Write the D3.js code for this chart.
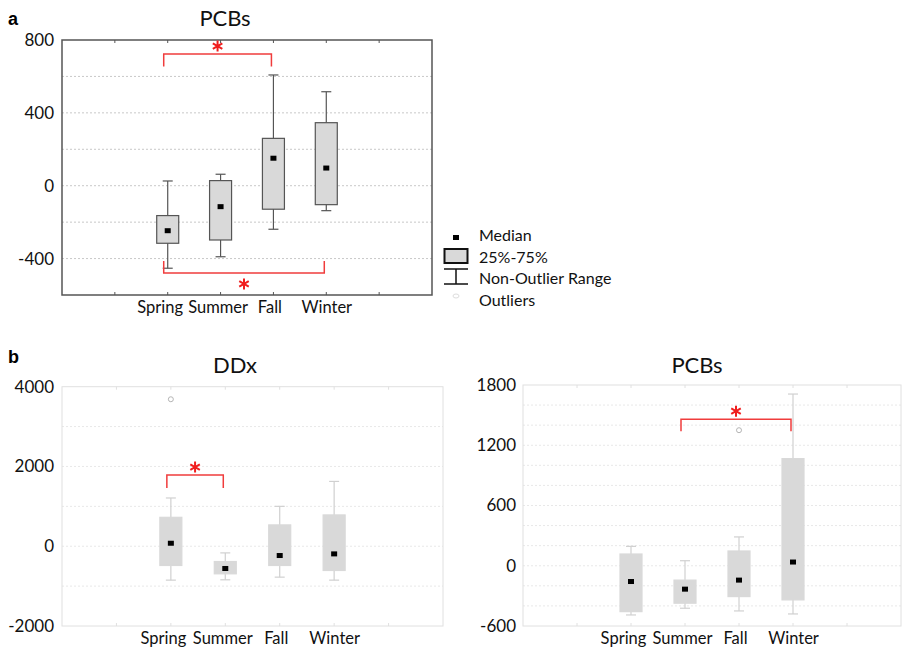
<!DOCTYPE html>
<html>
<head>
<meta charset="utf-8">
<script src="https://cdn.jsdelivr.net/npm/d3@7"></script>
<style>
  body { margin: 0; background: #fff; }
  svg { display: block; font-family: Lato, "Open Sans", sans-serif; }
</style>
</head>
<body>
<svg id="chart" width="903" height="650"></svg>
<script>
// Seasons shared by every panel
var seasons = ["Spring", "Summer", "Fall", "Winter"];

// Panel a - PCBs (min, q1, median, q3, max per season)
var pcbsA_min = [-453, -390, -239, -137];
var pcbsA_q1 = [-316, -298, -129, -104];
var pcbsA_med = [-247, -115, 151, 97];
var pcbsA_q3 = [-164, 28, 260, 346];
var pcbsA_max = [26, 63, 608, 516];
var pcbsA_outliers = [];
var pcbsA_ticks = [-400, 0, 400, 800];
var pcbsA_grid = [-400, -200, 0, 200, 400, 600];
var pcbsA_sig = [
  { from: "Spring", to: "Fall", y: 723, leg: 654 },
  { from: "Spring", to: "Winter", y: -479, leg: -413 }
];

// Panel b - DDx
var ddx_min = [-850, -842, -775, -850];
var ddx_q1 = [-483, -692, -483, -608];
var ddx_med = [75, -558, -233, -192];
var ddx_q3 = [725, -383, 535, 785];
var ddx_max = [1210, -167, 1000, 1625];
var ddx_outliers = [{ season: "Spring", value: 3685 }];
var ddx_ticks = [-2000, 0, 2000, 4000];
var ddx_grid = [-1000, 0, 1000, 2000, 3000];
var ddx_sig = [{ from: "Spring", to: "Summer", y: 1783, leg: 1458 }];

// Panel b - PCBs
var pcbsB_min = [-490, -423, -450, -480];
var pcbsB_q1 = [-457, -373, -307, -340];
var pcbsB_med = [-157, -233, -143, 37];
var pcbsB_q3 = [117, -143, 147, 1067];
var pcbsB_max = [193, 50, 287, 1710];
var pcbsB_outliers = [{ season: "Fall", value: 1350 }];
var pcbsB_ticks = [-600, 0, 600, 1200, 1800];
var pcbsB_grid = [-400, -200, 0, 200, 400, 600, 800, 1000, 1200, 1400, 1600];
var pcbsB_sig = [{ from: "Summer", to: "Winter", y: 1460, leg: 1340 }];

var svg = d3.select("#chart");

// the original labels sit a little left of some categories
var labelNudge = { Spring: -8, Summer: -3, Fall: -4, Winter: 0 };

function boxRows(mins, q1s, meds, q3s, maxs) {
  return seasons.map(function(s, i) {
    return { season: s, min: mins[i], q1: q1s[i], med: meds[i], q3: q3s[i], max: maxs[i] };
  });
}

function fmt(d) { return String(d); } // plain hyphen minus

// six-armed asterisk used as the significance mark
function starPath(cx, cy, r) {
  var p = "";
  [90, 30, 150].forEach(function(a) {
    var dx = r * Math.cos(a * Math.PI / 180), dy = r * Math.sin(a * Math.PI / 180);
    p += "M" + (cx - dx) + "," + (cy - dy) + "L" + (cx + dx) + "," + (cy + dy);
  });
  return p;
}

function drawPanel(opt) {
  var g = svg.append("g");
  var x = d3.scalePoint().domain(seasons)
    .range([opt.left, opt.right]).padding(2);
  var y = d3.scaleLinear().domain(opt.domain).range([opt.bottom, opt.top]);
  var step = x.step();

  // dotted grid
  g.selectAll(".grid").data(opt.grid).enter().append("line")
    .attr("x1", opt.left).attr("x2", opt.right)
    .attr("y1", function(d) { return y(d); }).attr("y2", function(d) { return y(d); })
    .attr("stroke", opt.gridColor).attr("stroke-width", 1)
    .attr("stroke-dasharray", "2,2");

  // frame
  g.append("rect")
    .attr("x", opt.left).attr("y", opt.top)
    .attr("width", opt.right - opt.left).attr("height", opt.bottom - opt.top)
    .attr("fill", "none").attr("stroke", opt.frameColor).attr("stroke-width", opt.frameWidth);

  // small inward ticks on top and bottom
  d3.range(1, 7).forEach(function(i) {
    var xx = opt.left + i * step;
    g.append("line").attr("x1", xx).attr("x2", xx)
      .attr("y1", opt.top).attr("y2", opt.top + 3)
      .attr("stroke", opt.frameColor);
    g.append("line").attr("x1", xx).attr("x2", xx)
      .attr("y1", opt.bottom).attr("y2", opt.bottom - 3)
      .attr("stroke", opt.frameColor);
  });

  // y axis labels
  var yAxis = d3.axisLeft(y).tickValues(opt.ticks).tickSize(0).tickPadding(opt.tickPad)
    .tickFormat(fmt);
  var ya = g.append("g").attr("transform", "translate(" + opt.left + ",0)").call(yAxis);
  ya.select(".domain").remove();
  ya.selectAll("text").attr("font-size", 17).attr("fill", "#111")
    .attr("font-family", "Lato, sans-serif");

  // x axis labels
  var xAxis = d3.axisBottom(x).tickSize(0).tickPadding(opt.xPad);
  var xa = g.append("g").attr("transform", "translate(0," + opt.bottom + ")").call(xAxis);
  xa.select(".domain").remove();
  xa.selectAll("text").attr("font-size", 16.5).attr("fill", "#111")
    .attr("font-family", "Lato, sans-serif")
    .attr("dx", function(d) { return labelNudge[d]; });

  // title
  g.append("text").attr("x", opt.titleX).attr("y", opt.titleY)
    .attr("text-anchor", "middle").attr("font-size", 22).attr("fill", "#111")
    .text(opt.title);

  var bw = 22, cap = 10;
  var boxes = g.selectAll(".box").data(opt.rows).enter().append("g");

  // whiskers
  boxes.append("line")
    .attr("x1", function(d) { return x(d.season); }).attr("x2", function(d) { return x(d.season); })
    .attr("y1", function(d) { return y(d.max); }).attr("y2", function(d) { return y(d.min); })
    .attr("stroke", opt.whiskerColor).attr("stroke-width", 1.2);
  ["max", "min"].forEach(function(k) {
    boxes.append("line")
      .attr("x1", function(d) { return x(d.season) - cap / 2; })
      .attr("x2", function(d) { return x(d.season) + cap / 2; })
      .attr("y1", function(d) { return y(d[k]); }).attr("y2", function(d) { return y(d[k]); })
      .attr("stroke", opt.whiskerColor).attr("stroke-width", 1.2);
  });

  // 25%-75% box
  boxes.append("rect")
    .attr("x", function(d) { return x(d.season) - bw / 2; })
    .attr("y", function(d) { return y(d.q3); })
    .attr("width", bw)
    .attr("height", function(d) { return y(d.q1) - y(d.q3); })
    .attr("fill", "#d9d9d9")
    .attr("stroke", opt.boxStroke).attr("stroke-width", 1.2);

  // median
  boxes.append("rect")
    .attr("x", function(d) { return x(d.season) - 3; })
    .attr("y", function(d) { return y(d.med) - 2.5; })
    .attr("width", 6).attr("height", 5).attr("fill", "#000");

  // outliers
  g.selectAll(".out").data(opt.outliers).enter().append("circle")
    .attr("cx", function(d) { return x(d.season); })
    .attr("cy", function(d) { return y(d.value); })
    .attr("r", 2.5).attr("fill", "none").attr("stroke", "#b5b5b5").attr("stroke-width", 1);

  // significance brackets
  opt.sig.forEach(function(s) {
    var x1 = x(s.from) - 4, x2 = x(s.to) - 2;
    g.append("path")
      .attr("d", "M" + x1 + "," + y(s.leg) + "V" + y(s.y) + "H" + x2 + "V" + y(s.leg))
      .attr("fill", "none").attr("stroke", "#f03c3c").attr("stroke-width", 1.5);
    var below = s.y < s.leg;
    var cy = below ? y(s.y) + 11 : y(s.y) - 8;
    g.append("path")
      .attr("d", starPath((x1 + x2) / 2, cy, 5.5))
      .attr("fill", "none").attr("stroke", "#f01e1e").attr("stroke-width", 2);
  });
}

drawPanel({
  left: 62, right: 432, top: 40, bottom: 295, domain: [-600, 800],
  ticks: pcbsA_ticks, grid: pcbsA_grid, tickPad: 8, xPad: 6,
  rows: boxRows(pcbsA_min, pcbsA_q1, pcbsA_med, pcbsA_q3, pcbsA_max),
  outliers: pcbsA_outliers, sig: pcbsA_sig,
  title: "PCBs", titleX: 225, titleY: 26,
  gridColor: "#c8c8c8", frameColor: "#555", frameWidth: 1.5,
  whiskerColor: "#555", boxStroke: "#555"
});

drawPanel({
  left: 62, right: 443, top: 386.7, bottom: 626, domain: [-2000, 4000],
  ticks: ddx_ticks, grid: ddx_grid, tickPad: 8, xPad: 6,
  rows: boxRows(ddx_min, ddx_q1, ddx_med, ddx_q3, ddx_max),
  outliers: ddx_outliers, sig: ddx_sig,
  title: "DDx", titleX: 235, titleY: 373,
  gridColor: "#e8e8e8", frameColor: "#e0e0e0", frameWidth: 1,
  whiskerColor: "#d0d0d0", boxStroke: "#d9d9d9"
});

drawPanel({
  left: 523, right: 901, top: 385, bottom: 626, domain: [-600, 1800],
  ticks: pcbsB_ticks, grid: pcbsB_grid, tickPad: 7, xPad: 6,
  rows: boxRows(pcbsB_min, pcbsB_q1, pcbsB_med, pcbsB_q3, pcbsB_max),
  outliers: pcbsB_outliers, sig: pcbsB_sig,
  title: "PCBs", titleX: 697, titleY: 373,
  gridColor: "#e8e8e8", frameColor: "#e0e0e0", frameWidth: 1,
  whiskerColor: "#d0d0d0", boxStroke: "#d9d9d9"
});

// panel letters
svg.append("text").attr("x", 8).attr("y", 25).attr("font-size", 18)
  .attr("font-weight", "bold").attr("font-family", "Arial, sans-serif").text("a");
svg.append("text").attr("x", 8).attr("y", 363).attr("font-size", 18)
  .attr("font-weight", "bold").attr("font-family", "Arial, sans-serif").text("b");

// legend for panel a
var legendItems = ["Median", "25%-75%", "Non-Outlier Range", "Outliers"];
var lg = svg.append("g").attr("transform", "translate(456,237)");
lg.append("rect").attr("x", -3).attr("y", -2).attr("width", 6).attr("height", 5).attr("fill", "#000");
lg.append("rect").attr("x", -11.5).attr("y", 12).attr("width", 23).attr("height", 14)
  .attr("fill", "#d9d9d9").attr("stroke", "#111").attr("stroke-width", 2);
lg.append("path").attr("d", "M-12,32H12M0,32V47M-12,47H12")
  .attr("fill", "none").attr("stroke", "#111").attr("stroke-width", 1.5);
lg.append("ellipse").attr("cx", 0).attr("cy", 59).attr("rx", 3).attr("ry", 2)
  .attr("fill", "none").attr("stroke", "#ddd");
lg.selectAll(".lt").data(legendItems).enter().append("text")
  .attr("x", 23).attr("y", function(d, i) { return i * 21.5 + 4; })
  .attr("font-size", 16).attr("fill", "#111").text(function(d) { return d; });
</script>
</body>
</html>
